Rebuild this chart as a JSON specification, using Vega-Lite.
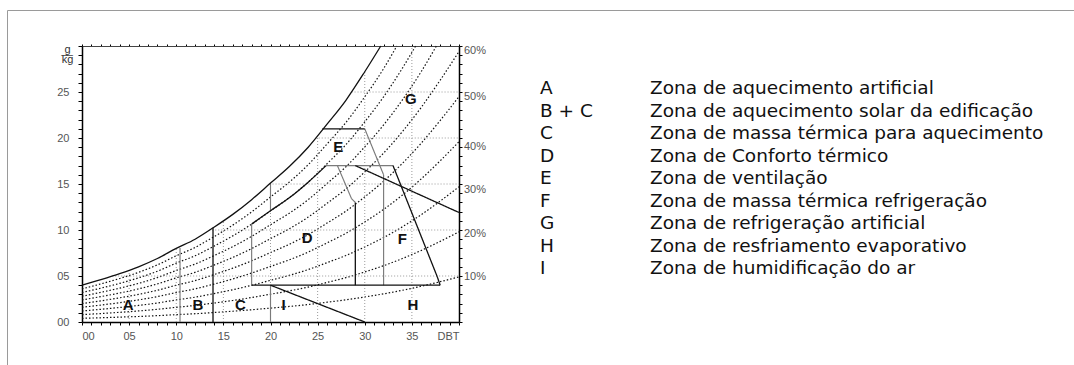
{
  "$schema": "https://vega.github.io/schema/vega-lite/v6.json",
  "width": 1067,
  "height": 355,
  "autosize": {"type": "none"},
  "padding": {"left": 7, "top": 10, "right": 0, "bottom": 0},
  "config": {
    "view": {"stroke": "#9a9a9a", "strokeWidth": 1},
    "axis": {"grid": false, "labelFont": "Liberation Sans", "labelFontSize": 11, "labelColor": "#555", "tickColor": "#000", "domainColor": "#000", "labelOverlap": false}
  },
  "datasets": {
    "curves": [
      {"T": 0, "sat": 4.0, "r90": 3.6, "r80": 3.2, "r70": 2.8, "r60": 2.4, "r50": 2.0, "r40": 1.6, "r30": 1.2, "r20": 0.8, "r10": 0.4},
      {"T": 2, "sat": 4.6, "r90": 4.14, "r80": 3.68, "r70": 3.22, "r60": 2.76, "r50": 2.3, "r40": 1.84, "r30": 1.38, "r20": 0.92, "r10": 0.46},
      {"T": 4, "sat": 5.25, "r90": 4.73, "r80": 4.2, "r70": 3.68, "r60": 3.15, "r50": 2.63, "r40": 2.1, "r30": 1.58, "r20": 1.05, "r10": 0.53},
      {"T": 6, "sat": 6.0, "r90": 5.4, "r80": 4.8, "r70": 4.2, "r60": 3.6, "r50": 3.0, "r40": 2.4, "r30": 1.8, "r20": 1.2, "r10": 0.6},
      {"T": 8, "sat": 6.9, "r90": 6.21, "r80": 5.52, "r70": 4.83, "r60": 4.14, "r50": 3.45, "r40": 2.76, "r30": 2.07, "r20": 1.38, "r10": 0.69},
      {"T": 10, "sat": 8.0, "r90": 7.2, "r80": 6.4, "r70": 5.6, "r60": 4.8, "r50": 4.0, "r40": 3.2, "r30": 2.4, "r20": 1.6, "r10": 0.8},
      {"T": 12, "sat": 9.0, "r90": 8.1, "r80": 7.2, "r70": 6.3, "r60": 5.4, "r50": 4.5, "r40": 3.6, "r30": 2.7, "r20": 1.8, "r10": 0.9},
      {"T": 14, "sat": 10.3, "r90": 9.27, "r80": 8.24, "r70": 7.21, "r60": 6.18, "r50": 5.15, "r40": 4.12, "r30": 3.09, "r20": 2.06, "r10": 1.03},
      {"T": 16, "sat": 11.7, "r90": 10.53, "r80": 9.36, "r70": 8.19, "r60": 7.02, "r50": 5.85, "r40": 4.68, "r30": 3.51, "r20": 2.34, "r10": 1.17},
      {"T": 18, "sat": 13.3, "d80": 10.65, "r90": 11.97, "r80": 10.64, "r70": 9.31, "r60": 7.98, "r50": 6.65, "r40": 5.32, "r30": 3.99, "r20": 2.66, "r10": 1.33},
      {"T": 20, "sat": 15.1, "d80": 12.1, "r90": 13.59, "r80": 12.08, "r70": 10.57, "r60": 9.06, "r50": 7.55, "r40": 6.04, "r30": 4.53, "r20": 3.02, "r10": 1.51},
      {"T": 22, "sat": 16.9, "d80": 13.5, "r90": 15.21, "r80": 13.52, "r70": 11.83, "r60": 10.14, "r50": 8.45, "r40": 6.76, "r30": 5.07, "r20": 3.38, "r10": 1.69},
      {"T": 24, "sat": 19.0, "d80": 15.2, "r90": 17.1, "r80": 15.2, "r70": 13.3, "r60": 11.4, "r50": 9.5, "r40": 7.6, "r30": 5.7, "r20": 3.8, "r10": 1.9},
      {"T": 25.9, "d80": 17.0},
      {"T": 26, "sat": 21.5, "r90": 19.35, "r80": 17.2, "r70": 15.05, "r60": 12.9, "r50": 10.75, "r40": 8.6, "r30": 6.45, "r20": 4.3, "r10": 2.15},
      {"T": 28, "sat": 24.1, "r90": 21.69, "r80": 19.28, "r70": 16.87, "r60": 14.46, "r50": 12.05, "r40": 9.64, "r30": 7.23, "r20": 4.82, "r10": 2.41},
      {"T": 30, "sat": 27.2, "r90": 24.48, "r80": 21.76, "r70": 19.04, "r60": 16.32, "r50": 13.6, "r40": 10.88, "r30": 8.16, "r20": 5.44, "r10": 2.72},
      {"T": 31.7, "sat": 30.0},
      {"T": 32, "r90": 27.54, "r80": 24.48, "r70": 21.42, "r60": 18.36, "r50": 15.3, "r40": 12.24, "r30": 9.18, "r20": 6.12, "r10": 3.06},
      {"T": 33.4, "r90": 30.0},
      {"T": 34, "r80": 27.6, "r70": 24.15, "r60": 20.7, "r50": 17.25, "r40": 13.8, "r30": 10.35, "r20": 6.9, "r10": 3.45},
      {"T": 35.4, "r80": 30.0},
      {"T": 36, "r70": 27.23, "r60": 23.34, "r50": 19.45, "r40": 15.56, "r30": 11.67, "r20": 7.78, "r10": 3.89},
      {"T": 37.6, "r70": 30.0},
      {"T": 38, "r60": 26.28, "r50": 21.9, "r40": 17.52, "r30": 13.14, "r20": 8.76, "r10": 4.38},
      {"T": 40, "r60": 29.4, "r50": 24.5, "r40": 19.6, "r30": 14.7, "r20": 9.8, "r10": 4.9}
    ],
    "segs": [
      {"k": "grid", "x": 5, "y": 0, "x2": 5, "y2": 5.6},
      {"k": "grid", "x": 10, "y": 0, "x2": 10, "y2": 8.0},
      {"k": "grid", "x": 15, "y": 0, "x2": 15, "y2": 11.0},
      {"k": "grid", "x": 20, "y": 0, "x2": 20, "y2": 15.1},
      {"k": "grid", "x": 25, "y": 0, "x2": 25, "y2": 20.25},
      {"k": "grid", "x": 30, "y": 0, "x2": 30, "y2": 27.2},
      {"k": "grid", "x": 35, "y": 0, "x2": 35, "y2": 30},
      {"k": "grid", "x": 3.2, "y": 5, "x2": 40, "y2": 5},
      {"k": "grid", "x": 13.5, "y": 10, "x2": 40, "y2": 10},
      {"k": "grid", "x": 19.9, "y": 15, "x2": 40, "y2": 15},
      {"k": "grid", "x": 24.8, "y": 20, "x2": 40, "y2": 20},
      {"k": "grid", "x": 28.6, "y": 25, "x2": 40, "y2": 25},
      {"k": "zg", "x": 10.4, "y": 0, "x2": 10.4, "y2": 8.05},
      {"k": "zg", "x": 20, "y": 0, "x2": 20, "y2": 4},
      {"k": "zg", "x": 20, "y": 12.1, "x2": 20, "y2": 15.1},
      {"k": "zg", "x": 18, "y": 4, "x2": 18, "y2": 10.65},
      {"k": "zg", "x": 25.9, "y": 17, "x2": 33, "y2": 17},
      {"k": "zg", "x": 27.1, "y": 17, "x2": 28.6, "y2": 13.4},
      {"k": "zg", "x": 28.6, "y": 13.4, "x2": 29, "y2": 13},
      {"k": "zg", "x": 30, "y": 21, "x2": 32, "y2": 16},
      {"k": "zg", "x": 32, "y": 16, "x2": 32, "y2": 4},
      {"k": "zk", "x": 13.9, "y": 0, "x2": 13.9, "y2": 10.25},
      {"k": "zk", "x": 29, "y": 4, "x2": 29, "y2": 13},
      {"k": "zk", "x": 18, "y": 4, "x2": 38, "y2": 4},
      {"k": "zk", "x": 20, "y": 4, "x2": 30, "y2": 0},
      {"k": "zk", "x": 25.5, "y": 21, "x2": 30, "y2": 21},
      {"k": "zk", "x": 29, "y": 17, "x2": 40, "y2": 11.9},
      {"k": "zk", "x": 33, "y": 17, "x2": 37.7, "y2": 4.9},
      {"k": "zk", "x": 37.7, "y": 4.9, "x2": 38, "y2": 4}
    ],
    "zones": [
      {"t": "A", "x": 4.9, "y": 1.8},
      {"t": "B", "x": 12.3, "y": 1.8},
      {"t": "C", "x": 16.8, "y": 1.8},
      {"t": "I", "x": 21.4, "y": 1.85},
      {"t": "H", "x": 35.1, "y": 1.85},
      {"t": "D", "x": 23.9, "y": 9.1},
      {"t": "F", "x": 34.0, "y": 9.0},
      {"t": "E", "x": 27.2, "y": 19.0},
      {"t": "G", "x": 34.9, "y": 24.2}
    ],
    "rhl": [
      {"t": "10%", "w": 4.9},
      {"t": "20%", "w": 9.6},
      {"t": "30%", "w": 14.3},
      {"t": "40%", "w": 19.0},
      {"t": "50%", "w": 24.5},
      {"t": "60%", "w": 29.5}
    ],
    "legend": [
      {"code": "A", "desc": "Zona de aquecimento artificial"},
      {"code": "B + C", "desc": "Zona de aquecimento solar da edificação"},
      {"code": "C", "desc": "Zona de massa térmica para aquecimento"},
      {"code": "D", "desc": "Zona de Conforto térmico"},
      {"code": "E", "desc": "Zona de ventilação"},
      {"code": "F", "desc": "Zona de massa térmica refrigeração"},
      {"code": "G", "desc": "Zona de refrigeração artificial"},
      {"code": "H", "desc": "Zona de resfriamento evaporativo"},
      {"code": "I", "desc": "Zona de humidificação do ar"}
    ]
  },
  "layer": [
    {
      "resolve": {"axis": {"x": "independent", "y": "independent"}},
      "layer": [
        {
          "data": {"name": "curves"},
          "transform": [
            {"fold": ["r90", "r80", "r70", "r60", "r50", "r40", "r30", "r20", "r10"], "as": ["g", "w"]},
            {"filter": {"field": "w", "valid": true}}
          ],
          "mark": {"type": "line", "interpolate": "monotone", "strokeDash": [1.5, 2], "strokeWidth": 1.2, "color": "#111"},
          "encoding": {
            "x": {"field": "T", "type": "quantitative", "scale": {"domain": [0, 40], "range": [75, 452]}, "axis": null},
            "y": {"field": "w", "type": "quantitative", "scale": {"domain": [0, 30], "range": [312, 36]}, "axis": null},
            "detail": {"field": "g"}
          }
        },
        {
          "data": {"name": "segs"},
          "mark": {"type": "rule"},
          "encoding": {
            "x": {"field": "x", "type": "quantitative", "scale": {"domain": [0, 40], "range": [75, 452]},
              "axis": {"orient": "top", "offset": -36, "values": [0,1,2,3,4,5,6,7,8,9,10,11,12,13,14,15,16,17,18,19,20,21,22,23,24,25,26,27,28,29,30,31,32,33,34,35,36,37,38,39,40], "labels": false, "tickSize": 2, "title": null, "domainColor": "#444"}},
            "y": {"field": "y", "type": "quantitative", "scale": {"domain": [0, 30], "range": [312, 36]},
              "axis": {"orient": "right", "offset": -615, "values": [0,1,2,3,4,5,6,7,8,9,10,11,12,13,14,15,16,17,18,19,20,21,22,23,24,25,26,27,28,29,30], "labels": false, "tickSize": 3, "title": null, "domainWidth": 1.5}},
            "x2": {"field": "x2"},
            "y2": {"field": "y2"},
            "color": {"field": "k", "type": "nominal", "scale": {"domain": ["grid", "zg", "zk"], "range": ["#9a9a9a", "#7a7a7a", "#111111"]}, "legend": null},
            "strokeDash": {"field": "k", "type": "nominal", "scale": {"domain": ["grid", "zg", "zk"], "range": [[1, 2], [1, 0], [1, 0]]}, "legend": null},
            "strokeWidth": {"field": "k", "type": "nominal", "scale": {"domain": ["grid", "zg", "zk"], "range": [1, 1.3, 1.7]}, "legend": null}
          }
        },
        {
          "data": {"name": "curves"},
          "transform": [
            {"fold": ["sat", "d80"], "as": ["g", "w"]},
            {"filter": {"field": "w", "valid": true}}
          ],
          "mark": {"type": "line", "interpolate": "monotone", "strokeWidth": 1.3, "color": "#111"},
          "encoding": {
            "x": {"field": "T", "type": "quantitative", "scale": {"domain": [0, 40], "range": [75, 452]},
              "axis": {"orient": "bottom", "offset": -43, "values": [0,1,2,3,4,5,6,7,8,9,10,11,12,13,14,15,16,17,18,19,20,21,22,23,24,25,26,27,28,29,30,31,32,33,34,35,36,37,38,39,40],
                "labelExpr": "datum.value == 40 ? 'DBT' : (datum.value % 5 == 0 ? (datum.value < 10 ? '0' + datum.value : '' + datum.value) : '')",
                "labelFlush": true, "tickSize": 3, "labelPadding": 5, "title": null, "domainWidth": 1.5}},
            "y": {"field": "w", "type": "quantitative", "scale": {"domain": [0, 30], "range": [312, 36]},
              "axis": {"orient": "left", "offset": -75, "values": [0,1,2,3,4,5,6,7,8,9,10,11,12,13,14,15,16,17,18,19,20,21,22,23,24,25,26,27,28,29,30],
                "labelExpr": "datum.value % 5 == 0 && datum.value < 30 ? (datum.value < 10 ? '0' + datum.value : '' + datum.value) : ''",
                "tickSize": 4, "labelPadding": 9, "domainWidth": 1.5,
                "title": ["g", "k̅g̅"], "titleAngle": 0, "titleAlign": "center", "titleBaseline": "top", "titleX": -15, "titleY": 33,
                "titleFont": "Liberation Sans", "titleFontSize": 11, "titleFontWeight": "normal", "titleColor": "#333", "titleLineHeight": 10}},
            "detail": {"field": "g"}
          }
        },
        {
          "data": {"name": "zones"},
          "mark": {"type": "text", "font": "Liberation Sans", "fontSize": 15, "fontWeight": "bold", "color": "#111", "align": "center", "baseline": "middle"},
          "encoding": {
            "x": {"field": "x", "type": "quantitative", "scale": {"domain": [0, 40], "range": [75, 452]}, "axis": null},
            "y": {"field": "y", "type": "quantitative", "scale": {"domain": [0, 30], "range": [312, 36]}, "axis": null},
            "text": {"field": "t"}
          }
        },
        {
          "data": {"name": "rhl"},
          "mark": {"type": "text", "font": "Liberation Sans", "fontSize": 11, "color": "#555", "align": "left", "baseline": "middle", "dx": 5},
          "encoding": {
            "x": {"datum": 40, "type": "quantitative", "scale": {"domain": [0, 40], "range": [75, 452]}, "axis": null},
            "y": {"field": "w", "type": "quantitative", "scale": {"domain": [0, 30], "range": [312, 36]}, "axis": null},
            "text": {"field": "t"}
          }
        }
      ]
    },
    {
      "data": {"name": "legend"},
      "transform": [{"fold": ["code", "desc"], "as": ["key", "value"]}],
      "mark": {"type": "text", "font": "DejaVu Sans", "fontSize": 18.5, "color": "#111", "align": "left", "baseline": "middle"},
      "encoding": {
        "x": {"field": "key", "type": "nominal", "scale": {"type": "point", "domain": ["code", "desc"], "range": [533, 643], "padding": 0}, "axis": null},
        "y": {"field": "code", "type": "nominal", "sort": null, "scale": {"type": "point", "range": [78, 258], "padding": 0}, "axis": null},
        "text": {"field": "value"}
      }
    }
  ],
  "resolve": {"scale": {"x": "independent", "y": "independent"}}
}
